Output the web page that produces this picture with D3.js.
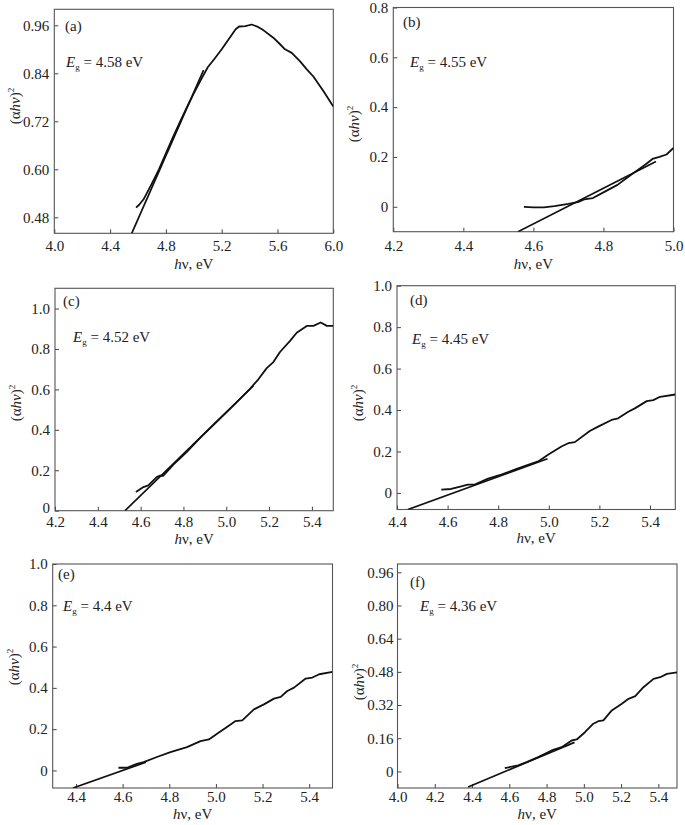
<!DOCTYPE html>
<html><head><meta charset="utf-8">
<script src="https://cdn.jsdelivr.net/npm/d3@7"></script>
<style>
body{margin:0;background:#fff}
svg{display:block}
text{font-family:"Liberation Serif","Times New Roman",serif;fill:#222}
</style>
</head><body>
<svg id="chart" width="685" height="825"></svg>
<script>
// ---------------- DATA ----------------
const panelIds = ["a", "b", "c", "d", "e", "f"];
const bandGaps = ["4.58", "4.55", "4.52", "4.45", "4.4", "4.36"];

const curveA = [[4.586,0.504],[4.61,0.512],[4.64,0.525],[4.7,0.565],[4.75,0.60],[4.8,0.64],[4.85,0.68],[4.9,0.718],[4.95,0.755],[5.0,0.79],[5.05,0.823],[5.1,0.855],[5.15,0.877],[5.2,0.9],[5.25,0.925],[5.3,0.95],[5.325,0.957],[5.37,0.958],[5.415,0.962],[5.46,0.956],[5.498,0.948],[5.57,0.929],[5.62,0.912],[5.654,0.90],[5.702,0.891],[5.762,0.87],[5.81,0.85],[5.857,0.832],[5.93,0.795],[6.0,0.757]];
const fitA = [[4.555,0.44],[5.07,0.848]];

const curveB = [[4.573,0.0],[4.6,-0.002],[4.63,-0.002],[4.66,0.003],[4.7,0.012],[4.73,0.02],[4.745,0.03],[4.77,0.035],[4.8,0.058],[4.84,0.088],[4.88,0.13],[4.92,0.17],[4.94,0.192],[4.96,0.2],[4.98,0.21],[5.0,0.236]];
const fitB = [[4.556,-0.1],[4.95,0.182]];

const curveC = [[4.578,0.092],[4.613,0.117],[4.636,0.125],[4.675,0.166],[4.691,0.174],[4.705,0.172],[4.753,0.228],[4.815,0.29],[4.878,0.36],[4.955,0.44],[5.033,0.52],[5.111,0.603],[5.15,0.65],[5.189,0.705],[5.22,0.735],[5.251,0.785],[5.298,0.84],[5.329,0.88],[5.376,0.914],[5.407,0.914],[5.441,0.931],[5.47,0.914],[5.5,0.914]];
const fitC = [[4.527,0.0],[5.127,0.618]];

const curveD = [[4.575,0.016],[4.614,0.019],[4.654,0.032],[4.68,0.04],[4.707,0.04],[4.76,0.069],[4.812,0.088],[4.865,0.112],[4.918,0.136],[4.958,0.152],[4.997,0.184],[5.05,0.224],[5.077,0.24],[5.103,0.245],[5.162,0.299],[5.195,0.32],[5.248,0.352],[5.274,0.36],[5.314,0.392],[5.34,0.408],[5.387,0.443],[5.413,0.448],[5.44,0.464],[5.5,0.475]];
const fitD = [[4.443,-0.08],[4.995,0.165]];

const curveE = [[4.582,0.013],[4.618,0.013],[4.661,0.032],[4.69,0.04],[4.747,0.065],[4.805,0.089],[4.876,0.113],[4.934,0.142],[4.97,0.15],[5.005,0.178],[5.063,0.223],[5.084,0.239],[5.113,0.243],[5.163,0.296],[5.206,0.32],[5.249,0.348],[5.278,0.356],[5.306,0.385],[5.335,0.401],[5.385,0.445],[5.414,0.45],[5.443,0.466],[5.5,0.477]];
const fitE = [[4.387,-0.085],[4.70,0.04]];

const curveF = [[4.576,0.016],[4.648,0.029],[4.693,0.045],[4.755,0.069],[4.827,0.101],[4.881,0.117],[4.935,0.149],[4.962,0.154],[5.006,0.189],[5.051,0.23],[5.078,0.242],[5.105,0.246],[5.15,0.294],[5.204,0.326],[5.24,0.35],[5.276,0.363],[5.32,0.406],[5.374,0.446],[5.41,0.454],[5.446,0.47],[5.5,0.478]];
const fitF = [[4.379,-0.075],[4.95,0.14]];

const xTicksA = [4.0,4.4,4.8,5.2,5.6,6.0];      const xTickLabelsA = ["4.0","4.4","4.8","5.2","5.6","6.0"];
const yTicksA = [0.48,0.60,0.72,0.84,0.96];     const yTickLabelsA = ["0.48","0.60","0.72","0.84","0.96"];
const xTicksB = [4.2,4.4,4.6,4.8,5.0];          const xTickLabelsB = ["4.2","4.4","4.6","4.8","5.0"];
const yTicksB = [0,0.2,0.4,0.6,0.8];            const yTickLabelsB = ["0","0.2","0.4","0.6","0.8"];
const xTicksC = [4.2,4.4,4.6,4.8,5.0,5.2,5.4];  const xTickLabelsC = ["4.2","4.4","4.6","4.8","5.0","5.2","5.4"];
const yTicksC = [0,0.2,0.4,0.6,0.8,1.0];        const yTickLabelsC = ["0","0.2","0.4","0.6","0.8","1.0"];
const xTicksD = [4.4,4.6,4.8,5.0,5.2,5.4];      const xTickLabelsD = ["4.4","4.6","4.8","5.0","5.2","5.4"];
const yTicksD = [0,0.2,0.4,0.6,0.8,1.0];        const yTickLabelsD = ["0","0.2","0.4","0.6","0.8","1.0"];
const xTicksE = [4.4,4.6,4.8,5.0,5.2,5.4];      const xTickLabelsE = ["4.4","4.6","4.8","5.0","5.2","5.4"];
const yTicksE = [0,0.2,0.4,0.6,0.8,1.0];        const yTickLabelsE = ["0","0.2","0.4","0.6","0.8","1.0"];
const xTicksF = [4.0,4.2,4.4,4.6,4.8,5.0,5.2,5.4]; const xTickLabelsF = ["4.0","4.2","4.4","4.6","4.8","5.0","5.2","5.4"];
const yTicksF = [0,0.16,0.32,0.48,0.64,0.80,0.96];  const yTickLabelsF = ["0","0.16","0.32","0.48","0.64","0.80","0.96"];

const xDomains = [[4.0,6.0],[4.2,5.0],[4.2,5.5],[4.4,5.5],[4.3,5.5],[4.0,5.5]];
const yDomains = [[0.44,1.0],[-0.1,0.8],[0,1.1],[-0.08,1.0],[-0.085,1.0],[-0.08,1.0]];

// ---------------- LAYOUT ----------------
const layout = [
  {l:54.3, r:333.3, t:9.3,   b:233.3, xb:251, xt:269, yl:106, ax:65,  ay:31,  ex:66,  ey:67,  yp:5, y0dy:0},
  {l:393.3,r:673.5, t:7.5,   b:231.7, xb:251, xt:269, yl:124, ax:403, ay:27,  ex:410, ey:67,  yp:5, y0dy:0},
  {l:55,   r:333.3, t:288.3, b:510.7, xb:527, xt:544, yl:403, ax:63,  ay:306, ex:73,  ey:342, yp:5, y0dy:-3},
  {l:397,  r:675.3, t:285.7, b:509.5, xb:527, xt:543, yl:403, ax:410, ay:305, ex:412, ey:344, yp:5, y0dy:0},
  {l:52.7, r:332.5, t:564,   b:788,   xb:802, xt:819, yl:667, ax:58,  ay:579, ex:63,  ey:611, yp:5, y0dy:0},
  {l:397.5,r:677,   t:564,   b:788,   xb:802, xt:819, yl:682, ax:410, ay:587, ex:420, ey:611, yp:4, y0dy:0}
];

const curves = [curveA, curveB, curveC, curveD, curveE, curveF];
const fits = [fitA, fitB, fitC, fitD, fitE, fitF];
const xTicks = [xTicksA, xTicksB, xTicksC, xTicksD, xTicksE, xTicksF];
const xTickLabels = [xTickLabelsA, xTickLabelsB, xTickLabelsC, xTickLabelsD, xTickLabelsE, xTickLabelsF];
const yTicks = [yTicksA, yTicksB, yTicksC, yTicksD, yTicksE, yTicksF];
const yTickLabels = [yTickLabelsA, yTickLabelsB, yTickLabelsC, yTickLabelsD, yTickLabelsE, yTickLabelsF];

const svg = d3.select("#chart");
const FS = 15;
const SERIF = '"Liberation Serif","Times New Roman",serif';

panelIds.forEach((id, i) => {
  const L = layout[i];
  const w = L.r - L.l, h = L.b - L.t;
  const x = d3.scaleLinear().domain(xDomains[i]).range([0, w]);
  const y = d3.scaleLinear().domain(yDomains[i]).range([h, 0]);
  const g = svg.append("g").attr("transform", `translate(${L.l},${L.t})`);

  const clipId = "clip-" + id;
  g.append("clipPath").attr("id", clipId).append("rect").attr("width", w).attr("height", h);

  // axes
  const xAx = d3.axisBottom(x).tickValues(xTicks[i]).tickFormat((d, k) => xTickLabels[i][k])
    .tickSizeInner(-4).tickSizeOuter(0).tickPadding(0);
  const gx = g.append("g").attr("transform", `translate(0,${h})`).call(xAx);
  gx.select(".domain").remove();
  gx.selectAll("line").attr("stroke", "#444");
  gx.selectAll("text").attr("y", L.xb - L.b).attr("dy", null)
    .style("font-family", SERIF).style("font-size", FS + "px").attr("fill", "#222");

  const yAx = d3.axisLeft(y).tickValues(yTicks[i]).tickFormat((d, k) => yTickLabels[i][k])
    .tickSizeInner(-4).tickSizeOuter(0).tickPadding(L.yp);
  const gy = g.append("g").call(yAx);
  gy.select(".domain").remove();
  gy.selectAll("line").attr("stroke", "#444");
  gy.selectAll("text").style("font-family", SERIF)
    .style("font-size", FS + "px").attr("fill", "#222")
    .attr("transform", d => d === 0 ? `translate(0,${L.y0dy})` : null);

  // frame
  g.append("rect").attr("width", w).attr("height", h).attr("fill", "none")
    .attr("stroke", "#555").attr("stroke-width", 1.1);

  // curves
  const line = d3.line().x(d => x(d[0])).y(d => y(d[1]));
  const pg = g.append("g").attr("clip-path", `url(#${clipId})`);
  pg.append("path").datum(fits[i]).attr("d", line).attr("fill", "none")
    .attr("stroke", "#111").attr("stroke-width", 1.7);
  pg.append("path").datum(curves[i]).attr("d", line).attr("fill", "none")
    .attr("stroke", "#111").attr("stroke-width", 1.8).attr("stroke-linejoin", "round");

  // x axis title
  const xt = svg.append("text").attr("x", (L.l + L.r) / 2).attr("y", L.xt)
    .attr("text-anchor", "middle").style("font-size", FS + "px");
  xt.append("tspan").attr("font-style", "italic").text("h");
  xt.append("tspan").text("ν, eV");

  // y axis title
  const yt = svg.append("text").attr("transform", `translate(${L.l - 34},${L.yl}) rotate(-90)`)
    .attr("text-anchor", "middle").style("font-size", FS + "px");
  yt.append("tspan").text("(α");
  yt.append("tspan").attr("font-style", "italic").text("hν");
  yt.append("tspan").text(")");
  yt.append("tspan").attr("font-size", "9px").attr("dy", "-6").text("2");

  // annotations
  svg.append("text").attr("x", L.ax).attr("y", L.ay).style("font-size", FS + "px").text(`(${id})`);
  const eg = svg.append("text").attr("x", L.ex).attr("y", L.ey).style("font-size", FS + "px");
  eg.append("tspan").attr("font-style", "italic").text("E");
  eg.append("tspan").attr("font-size", "9px").attr("dy", "3").text("g");
  eg.append("tspan").attr("dy", "-3").text(` = ${bandGaps[i]} eV`);
});
</script>
</body></html>
